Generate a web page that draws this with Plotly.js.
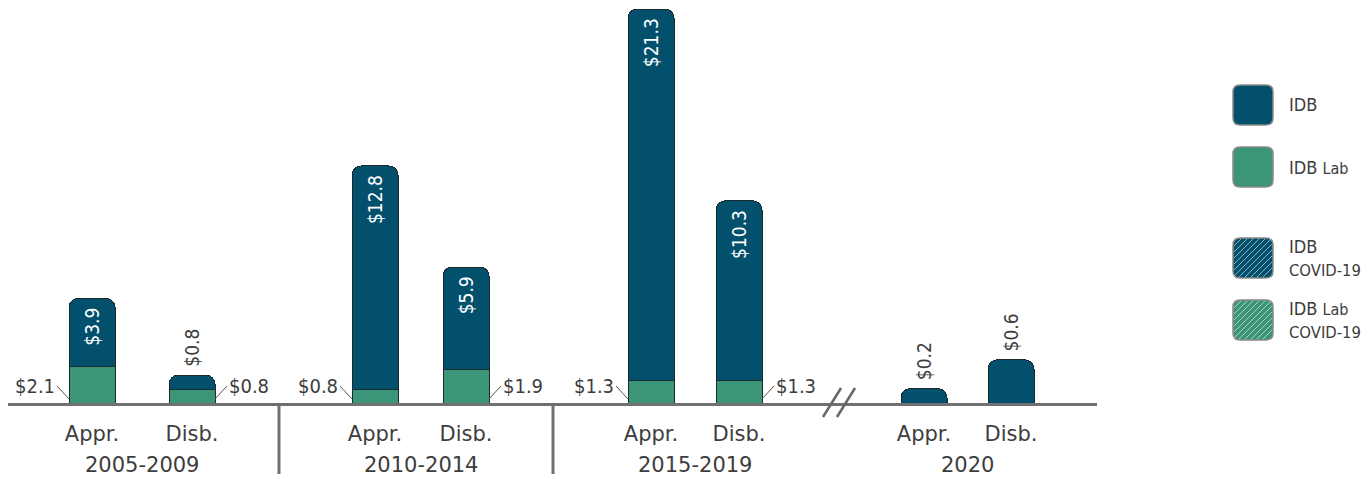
<!DOCTYPE html>
<html>
<head>
<meta charset="utf-8">
<script src="https://cdn.plot.ly/plotly-3.0.1.min.js"></script>
<style>html,body{margin:0;padding:0;background:#fff;}#chart{width:1371px;height:479px;}</style>
</head>
<body>
<div id="chart"></div>
<script>
// ---- data ----
const groups = ['2005-2009', '2010-2014', '2015-2019', '2020'];
const barKinds = ['Appr.', 'Disb.'];
const idbValues = [3.9, 0.8, 12.8, 5.9, 21.3, 10.3];      // 2005-2019, Appr./Disb.
const idbLabValues = [2.1, 0.8, 0.8, 1.9, 1.3, 1.3];      // 2005-2019, Appr./Disb.
const idb2020Values = [0.2, 0.6];                         // 2020 (different scale)
const legendNames = ['IDB', 'IDB <span style="font-size:16px">Lab</span>',
  'IDB<br><span style="font-size:16.5px">COVID-19</span>',
  'IDB <span style="font-size:16px">Lab</span><br><span style="font-size:16.5px">COVID-19</span>'];

// ---- layout constants ----
const FONT = '"DejaVu Sans", sans-serif';
const FONT_C = '"DejaVu Sans Condensed", "DejaVu Sans", sans-serif';
const C_IDB = '#03506d', C_LAB = '#3d9579', C_TXT = '#3d3d3d', C_AX = '#707070';
const W = 1371, H = 479, PL = 8, PR = 1097, PT = 5, PB = 403;
const slotPx = [92, 192, 375, 466, 651, 739, 924, 1011];
const barW = 46;
const dividerPx = [279, 553];
const NB = '\u00A0';
const fmt = v => '$' + v.toFixed(1);
const toPX = px => (px - PL) / (PR - PL);
const toPY = py => (PB - py) / (PB - PT);

const xMain = slotPx.slice(0, 6);
const x2020 = slotPx.slice(6, 8);
const posMain = idbValues.map(v => v < 1.5 ? 'outside' : 'inside');

const lineStyle = {color: '#1b2a30', width: 1};
const traces = [
  {type: 'bar', x: xMain, y: idbLabValues, width: barW, name: 'IDB Lab',
   marker: {color: C_LAB, line: lineStyle}, hoverinfo: 'none'},
  {type: 'bar', x: xMain, y: idbValues, width: barW, name: 'IDB',
   marker: {color: C_IDB, line: lineStyle, cornerradius: 9},
   text: idbValues.map((v, i) => posMain[i] === 'inside' ? fmt(v) + NB : NB + fmt(v)),
   textposition: posMain,
   textangle: -90, insidetextanchor: 'end', constraintext: 'none',
   insidetextfont: {family: FONT_C, size: 19, color: '#ffffff'},
   outsidetextfont: {family: FONT_C, size: 19, color: C_TXT},
   cliponaxis: false, hoverinfo: 'none'},
  {type: 'bar', x: x2020, y: idb2020Values, width: barW, name: 'IDB 2020', yaxis: 'y2',
   marker: {color: C_IDB, line: lineStyle, cornerradius: 9},
   text: idb2020Values.map(v => NB + fmt(v)), textposition: 'outside', textangle: -90, constraintext: 'none',
   outsidetextfont: {family: FONT_C, size: 19, color: C_TXT},
   cliponaxis: false, hoverinfo: 'none'}
];

const annotations = [];
// green segment labels with leader lines
idbLabValues.forEach((v, i) => {
  const left = i % 2 === 0;
  annotations.push({
    x: slotPx[i] + (left ? -barW / 2 : barW / 2), y: 0.23, xref: 'x', yref: 'y',
    text: fmt(v), showarrow: true, arrowhead: 0, arrowwidth: 1, arrowcolor: '#555',
    ax: left ? -12 : 12, ay: -13, xanchor: left ? 'right' : 'left', yanchor: 'middle',
    font: {family: FONT_C, size: 20, color: C_TXT}
  });
});
// group labels
groups.forEach((g, gi) => {
  annotations.push({
    x: (slotPx[2 * gi] + slotPx[2 * gi + 1]) / 2, xref: 'x', y: toPY(465), yref: 'paper',
    text: g, showarrow: false, xanchor: 'center', yanchor: 'middle',
    font: {family: FONT, size: 21, color: C_TXT}
  });
});

const shapes = [];
dividerPx.forEach(d => shapes.push({type: 'line', xref: 'x', yref: 'paper', x0: d, x1: d,
  y0: 0, y1: toPY(474), line: {color: C_AX, width: 3}}));
// axis break marks
[[823, 841], [837, 855]].forEach(([a, b]) => shapes.push({type: 'line', xref: 'x', yref: 'paper',
  x0: a, x1: b, y0: toPY(417), y1: toPY(388), line: {color: '#666', width: 2.5}}));

// custom legend
const legTop = [85, 147, 238, 300], legColors = [C_IDB, C_LAB, C_IDB, C_LAB], legHatch = [false, false, true, true];
const LX = 1233, LS = 40, LR = 7;
function rrPath(x0, y0, s, r) {
  const x1 = x0 + s, y1 = y0 + s;
  const P = (x, y) => toPX(x) + ',' + toPY(y);
  return 'M' + P(x0 + r, y0) + ' L' + P(x1 - r, y0) + ' Q' + P(x1, y0) + ' ' + P(x1, y0 + r) +
    ' L' + P(x1, y1 - r) + ' Q' + P(x1, y1) + ' ' + P(x1 - r, y1) + ' L' + P(x0 + r, y1) +
    ' Q' + P(x0, y1) + ' ' + P(x0, y1 - r) + ' L' + P(x0, y0 + r) + ' Q' + P(x0, y0) + ' ' + P(x0 + r, y0) + ' Z';
}
legendNames.forEach((nm, i) => {
  const y0 = legTop[i];
  shapes.push({type: 'path', xref: 'paper', yref: 'paper', path: rrPath(LX, y0, LS, LR),
    fillcolor: legColors[i], line: {color: '#8a8a8a', width: 1.5}});
  if (legHatch[i]) {
    const x0 = LX + 1, x1 = LX + LS - 1, ya = y0 + 1, yb = y0 + LS - 1;
    for (let c = x0 + ya + 7; c < x1 + yb - 5; c += 6) {
      let sx = Math.max(x0, c - yb), sy = c - sx;
      let ex = Math.min(x1, c - ya), ey = c - ex;
      shapes.push({type: 'line', xref: 'paper', yref: 'paper', x0: toPX(sx), y0: toPY(sy),
        x1: toPX(ex), y1: toPY(ey), line: {color: 'rgba(255,255,255,0.55)', width: 1}});
    }
  }
  annotations.push({x: toPX(1287), y: toPY(y0 + LS / 2), xref: 'paper', yref: 'paper',
    text: nm, showarrow: false, xanchor: 'left', yanchor: 'middle', align: 'left',
    font: {family: FONT_C, size: 18, color: C_TXT}});
});

const layout = {
  width: W, height: H, margin: {l: PL, r: W - PR, t: PT, b: H - PB, pad: 0},
  paper_bgcolor: '#fff', plot_bgcolor: '#fff', showlegend: false,
  barmode: 'stack', font: {family: FONT, color: C_TXT},
  xaxis: {range: [PL, PR], tickvals: slotPx, ticktext: slotPx.map((_, i) => barKinds[i % 2]),
    showgrid: false, zeroline: false, showline: true, linecolor: C_AX, linewidth: 3,
    ticks: '', ticklabelstandoff: 10, tickfont: {family: FONT, size: 21, color: C_TXT}, fixedrange: true},
  yaxis: {range: [0, 22.83], visible: false, showgrid: false, zeroline: false, fixedrange: true},
  yaxis2: {range: [0, 5.53], overlaying: 'y', visible: false, showgrid: false, zeroline: false},
  annotations: annotations, shapes: shapes
};
Plotly.newPlot('chart', traces, layout, {displayModeBar: false, staticPlot: true});
</script>
</body>
</html>
